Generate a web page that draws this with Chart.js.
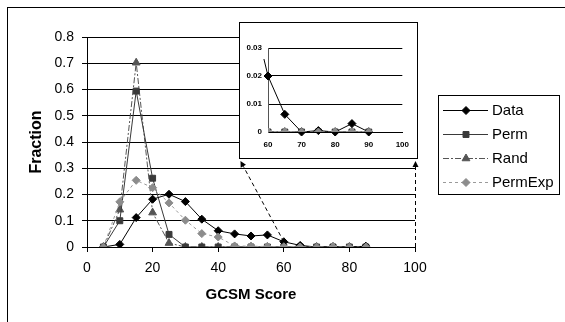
<!DOCTYPE html>
<html><head><meta charset="utf-8">
<script src="https://cdn.jsdelivr.net/npm/chart.js@4/dist/chart.umd.min.js"></script>
<style>
html,body{margin:0;padding:0;background:#fff;}
#wrap{position:relative;width:565px;height:322px;overflow:hidden;}
#main{position:absolute;left:0;top:0;}
#insetBox{position:absolute;left:239px;top:22px;width:177px;height:135px;border:1px solid #000;background:#fff;}
#inset{position:absolute;left:0;top:0;}
</style></head><body>
<div id="wrap">
<canvas id="main" width="565" height="322"></canvas>
<div id="insetBox"><canvas id="inset" width="177" height="135"></canvas></div>
</div>
<script>
// ---- data ----
const scores      = [5, 10, 15, 20, 25, 30, 35, 40, 45, 50, 55, 60, 65, 70, 75, 80, 85];
const dataVals    = [0, 0.010, 0.112, 0.182, 0.201, 0.173, 0.106, 0.062, 0.050, 0.042, 0.046, 0.020, 0.006, 0, 0.0005, 0, 0.003];
const permVals    = [0, 0.100, 0.594, 0.262, 0.048, 0, 0, 0, 0, 0, 0, 0, 0, 0, 0, 0, 0];
const randVals    = [0, 0.142, 0.702, 0.131, 0.015, 0, 0, 0, 0, 0, 0, 0, 0, 0, 0, 0, 0];
const permExpVals = [0, 0.172, 0.254, 0.226, 0.168, 0.102, 0.051, 0.038, 0.004, 0.003, 0.002, 0.001, 0, 0, 0, 0, 0];

const xTickLabels = ['0', '20', '40', '60', '80', '100'];
const yTickLabels = ['0', '0.1', '0.2', '0.3', '0.4', '0.5', '0.6', '0.7', '0.8'];

// inset (zoom of the 60-100 range)
const insetDataScores = [55, 60, 65, 70, 75, 80, 85, 90];
const insetDataVals   = [0.045, 0.020, 0.0063, 0, 0.0005, 0, 0.003, 0];
const insetScores     = [60, 65, 70, 75, 80, 85, 90];
const insetPermVals   = [0, 0, 0, 0, 0, 0, 0];
const insetRandVals   = [0, 0, 0, 0, 0, 0, 0];
const insetPermExpVals= [0, 0, 0, 0, 0, 0, 0];
const insetXTickLabels = ['60', '70', '80', '90', '100'];
const insetYTickLabels = ['0', '0.01', '0.02', '0.03'];

// ---- styles ----
const FONT = "'Liberation Sans', Arial, sans-serif";
const styles = {
  Data:    {line:'#000000', point:'#000000', shape:'rectRot',  r:4,   dash:[],          order:1},
  Perm:    {line:'#3a3a3a', point:'#3a3a3a', shape:'rect',     r:4.2, dash:[],          order:2},
  Rand:    {line:'#555555', point:'#555555', shape:'triangle', r:4.5, dash:[6,2,2,2],   order:3},
  PermExp: {line:'#9a9a9a', point:'#8c8c8c', shape:'rectRot',  r:4,   dash:[3,3],       order:0}
};
const pts = (xs, ys) => xs.map((x, i) => ({x: x, y: ys[i]}));
function ds(label, xs, ys, extra) {
  const s = styles[label];
  return Object.assign({
    label: label, data: pts(xs, ys),
    borderColor: s.line, borderWidth: 1, borderDash: s.dash,
    pointStyle: s.shape, pointRadius: s.r, pointBackgroundColor: s.point,
    pointBorderColor: s.point, pointBorderWidth: 1, tension: 0, fill: false,
    order: s.order
  }, extra || {});
}

function drawMarker(ctx, style, r, x, y) {
  if (Chart.helpers && Chart.helpers.drawPoint) {
    Chart.helpers.drawPoint(ctx, {pointStyle: style, radius: r, rotation: 0, borderWidth: 1}, x, y);
  } else {
    ctx.beginPath(); ctx.arc(x, y, r, 0, Math.PI * 2); ctx.fill(); ctx.stroke();
  }
}
function dashedArrow(ctx, x1, y1, x2, y2) {
  const ang = Math.atan2(y2 - y1, x2 - x1);
  const hl = 6, hw = 3;
  const bx = x2 - Math.cos(ang) * hl, by = y2 - Math.sin(ang) * hl;
  ctx.save();
  ctx.strokeStyle = '#000'; ctx.fillStyle = '#000'; ctx.lineWidth = 1;
  ctx.setLineDash([4, 3]);
  ctx.beginPath(); ctx.moveTo(x1, y1); ctx.lineTo(bx, by); ctx.stroke();
  ctx.setLineDash([]);
  ctx.beginPath();
  ctx.moveTo(x2, y2);
  ctx.lineTo(bx + Math.sin(ang) * hw, by - Math.cos(ang) * hw);
  ctx.lineTo(bx - Math.sin(ang) * hw, by + Math.cos(ang) * hw);
  ctx.closePath(); ctx.fill();
  ctx.restore();
}

const decor = {
  id: 'decor',
  beforeDraw(chart) {
    const c = chart.ctx;
    c.save();
    c.fillStyle = '#fff'; c.fillRect(0, 0, chart.width, chart.height);
    c.strokeStyle = '#000'; c.lineWidth = 1;
    c.strokeRect(7.5, 7.5, 700, 500);
    c.restore();
  },
  afterDatasetsDraw(chart) {
    const c = chart.ctx, xs = chart.scales.x, ys = chart.scales.y;
    const i60 = scores.indexOf(60);
    dashedArrow(c, xs.getPixelForValue(60), ys.getPixelForValue(dataVals[i60]), 240.5, 161);
    const x100 = Math.round(xs.getPixelForValue(100)) + 0.5;
    dashedArrow(c, x100, ys.getPixelForValue(0), x100, 161);
  },
  afterDraw(chart) {
    const c = chart.ctx;
    c.save();
    c.strokeStyle = '#000'; c.lineWidth = 1;
    c.strokeRect(438.5, 95.5, 121, 99);
    const rows = [110, 134, 158, 182];
    ['Data', 'Perm', 'Rand', 'PermExp'].forEach((name, k) => {
      const s = styles[name], y = rows[k] + 0.5;
      c.strokeStyle = s.line; c.setLineDash(s.dash);
      c.beginPath(); c.moveTo(443, y); c.lineTo(488, y); c.stroke();
      c.setLineDash([]);
      c.fillStyle = s.point; c.strokeStyle = s.point;
      drawMarker(c, s.shape, s.r, 466, y);
      c.fillStyle = '#000'; c.font = '15px ' + FONT; c.textBaseline = 'middle'; c.textAlign = 'left';
      c.fillText(name, 492, y);
    });
    c.restore();
  }
};

new Chart(document.getElementById('main'), {
  type: 'line',
  data: {
    datasets: [
      ds('Data', scores, dataVals),
      ds('Perm', scores, permVals),
      ds('Rand', scores, randVals),
      ds('PermExp', scores, permExpVals)
    ]
  },
  options: {
    responsive: false, animation: false, devicePixelRatio: 1,
    layout: {padding: {left: 0, right: 150, top: 37, bottom: 0}},
    plugins: {legend: {display: false}, tooltip: {enabled: false}},
    scales: {
      x: {
        type: 'linear', min: 0, max: 100,
        ticks: {stepSize: 20, color: '#000', padding: 8, maxRotation: 0, font: {family: FONT, size: 14},
                callback: (v, i) => xTickLabels[i]},
        grid: {drawOnChartArea: false, drawTicks: true, tickLength: 5, color: '#000'},
        border: {color: '#000', width: 1},
        title: {display: true, text: 'GCSM Score', color: '#000', font: {family: FONT, size: 15, weight: 'bold'},
                padding: {top: 0, bottom: 18}},
        afterFit(s) { s.height = 75; }
      },
      y: {
        type: 'linear', min: 0, max: 0.8,
        ticks: {stepSize: 0.1, color: '#000', padding: 8, font: {family: FONT, size: 14},
                callback: (v, i) => yTickLabels[i]},
        grid: {color: '#000', tickLength: 5},
        border: {color: '#000', width: 1},
        title: {display: true, text: 'Fraction', color: '#000', font: {family: FONT, size: 16, weight: 'bold'},
                padding: {top: 27, bottom: 0}},
        afterFit(s) { s.width = 87; }
      }
    }
  },
  plugins: [decor]
});

const insetBg = {
  id: 'insetBg',
  beforeDraw(chart) { const c = chart.ctx; c.save(); c.fillStyle = '#fff'; c.fillRect(0, 0, chart.width, chart.height); c.restore(); }
};
new Chart(document.getElementById('inset'), {
  type: 'line',
  data: {
    datasets: [
      ds('Data', insetDataScores, insetDataVals, {clip: {left: 5, top: -11, right: 0, bottom: 5}}),
      ds('Perm', insetScores, insetPermVals),
      ds('Rand', insetScores, insetRandVals),
      ds('PermExp', insetScores, insetPermExpVals)
    ]
  },
  options: {
    responsive: false, animation: false, devicePixelRatio: 1,
    layout: {padding: {left: 0, right: 12, top: 25, bottom: 0}},
    plugins: {legend: {display: false}, tooltip: {enabled: false}},
    scales: {
      x: {
        type: 'linear', min: 60, max: 100,
        ticks: {stepSize: 10, color: '#000', padding: 8, maxRotation: 0, font: {family: FONT, size: 8, weight: 'bold'},
                callback: (v, i) => insetXTickLabels[i]},
        grid: {drawOnChartArea: false, drawTicks: false},
        border: {color: '#000', width: 1},
        afterFit(s) { s.height = 26; }
      },
      y: {
        type: 'linear', min: 0, max: 0.03,
        ticks: {stepSize: 0.01, color: '#000', padding: 6, font: {family: FONT, size: 8, weight: 'bold'},
                callback: (v, i) => insetYTickLabels[i]},
        grid: {color: '#000', drawTicks: false},
        border: {color: '#555', width: 1},
        afterFit(s) { s.width = 28; }
      }
    }
  },
  plugins: [insetBg]
});
</script>
</body></html>
